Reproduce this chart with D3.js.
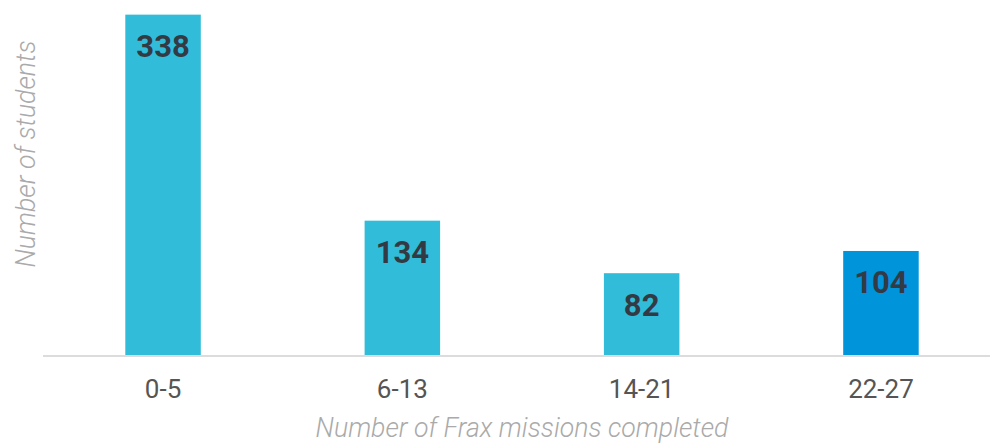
<!DOCTYPE html>
<html>
<head>
<meta charset="utf-8">
<script src="https://cdn.jsdelivr.net/npm/d3@7"></script>
<style>
	body { margin: 0; background: #fff; }
	svg { display: block; font-family: Roboto, sans-serif; }
</style>
</head>
<body>
<svg id="chart" width="990" height="443"></svg>
<script>
// Data
var categories = ["0-5", "6-13", "14-21", "22-27"];
var students = [338, 134, 82, 104];
var barColors = ["#31bdd9", "#31bdd9", "#31bdd9", "#0094db"];

var svg = d3.select("#chart");

var baseline = 356;

var x = d3.scaleBand()
	.domain(categories)
	.range([43.4, 1000.6])
	.paddingInner(0.6845)
	.paddingOuter(0.6845 / 2);

var y = d3.scaleLinear()
	.domain([0, 352.5])
	.range([baseline, 0]);

// bars
svg.selectAll("rect.bar")
	.data(students)
	.enter().append("rect")
	.attr("class", "bar")
	.attr("x", function(d, i) { return x(categories[i]); })
	.attr("y", function(d) { return y(d); })
	.attr("width", x.bandwidth())
	.attr("height", function(d) { return baseline - y(d); })
	.attr("fill", function(d, i) { return barColors[i]; });

// value labels inside bar tops
svg.selectAll("text.value")
	.data(students)
	.enter().append("text")
	.attr("class", "value")
	.attr("x", function(d, i) { return x(categories[i]) + x.bandwidth() / 2; })
	.attr("y", function(d) { return y(d) + 42.5; })
	.attr("text-anchor", "middle")
	.attr("font-size", "31px")
	.attr("font-weight", "700")
	.attr("fill", "#333a44")
	.text(function(d) { return d; });

// x axis
var xAxis = d3.axisBottom(x).tickSize(0).tickPadding(0);
var gx = svg.append("g")
	.attr("transform", "translate(0," + baseline + ")")
	.call(xAxis);
gx.select(".domain").remove();
gx.selectAll("text")
	.attr("dy", null)
	.attr("y", 42)
	.attr("font-size", "26px")
	.attr("font-family", "Roboto, sans-serif")
	.attr("fill", "#555");

svg.append("line")
	.attr("x1", 43)
	.attr("x2", 990)
	.attr("y1", baseline)
	.attr("y2", baseline)
	.attr("stroke", "#dcdcdc")
	.attr("stroke-width", 2);

// axis titles
svg.append("text")
	.attr("x", 522)
	.attr("y", 437)
	.attr("text-anchor", "middle")
	.attr("font-size", "26.7px")
	.attr("font-weight", "300")
	.attr("font-style", "italic")
	.attr("fill", "#aaaaaa")
	.text("Number of Frax missions completed");

svg.append("text")
	.attr("transform", "translate(35,154) rotate(-90)")
	.attr("text-anchor", "middle")
	.attr("font-size", "26.7px")
	.attr("font-weight", "300")
	.attr("font-style", "italic")
	.attr("fill", "#aaaaaa")
	.text("Number of students");
</script>
</body>
</html>
